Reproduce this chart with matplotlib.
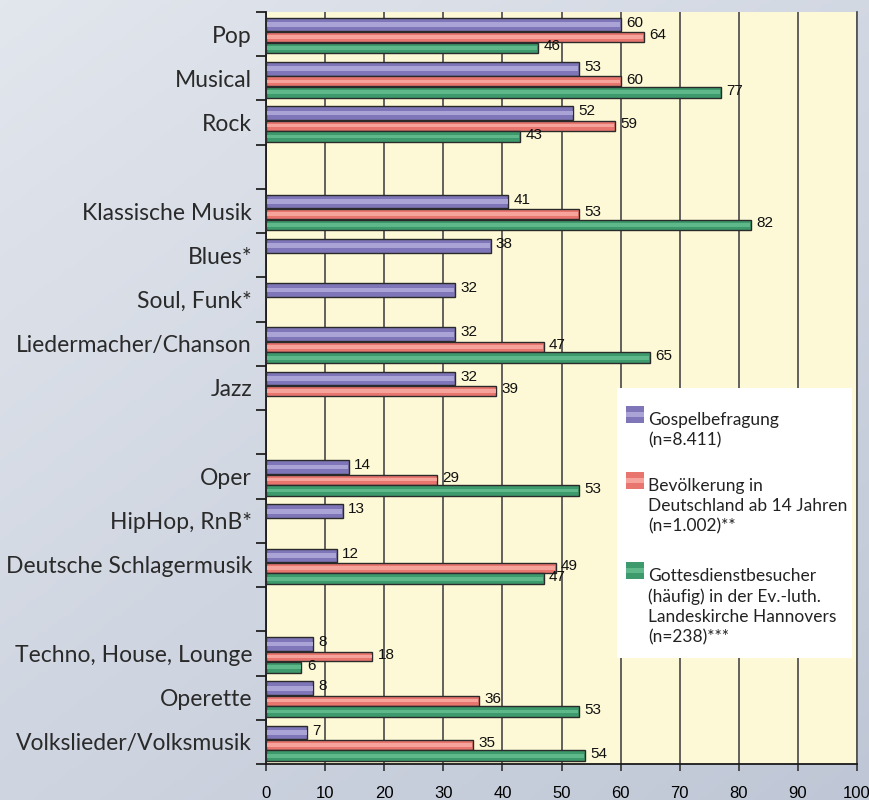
import numpy as np
import matplotlib
matplotlib.use("Agg")
import matplotlib.pyplot as plt
from matplotlib.patches import Rectangle
from matplotlib.colors import LinearSegmentedColormap

# ---- data ----
categories = ["Pop", "Musical", "Rock", "", "Klassische Musik", "Blues*", "Soul, Funk*",
              "Liedermacher/Chanson", "Jazz", "", "Oper", "HipHop, RnB*",
              "Deutsche Schlagermusik", "", "Techno, House, Lounge", "Operette",
              "Volkslieder/Volksmusik"]
nan = np.nan
gospel = [60, 53, 52, nan, 41, 38, 32, 32, 32, nan, 14, 13, 12, nan, 8, 8, 7]
bevoelkerung = [64, 60, 59, nan, 53, nan, nan, 47, 39, nan, 29, nan, 49, nan, 18, 36, 35]
gottesdienst = [46, 77, 43, nan, 82, nan, nan, 65, nan, nan, 53, nan, 47, nan, 6, 53, 54]
xticks = list(range(0, 101, 10))

legend_labels = ["Gospelbefragung\n(n=8.411)",
                 "Bevölkerung in\nDeutschland ab 14 Jahren\n(n=1.002)**",
                 "Gottesdienstbesucher\n(häufig) in der Ev.-luth.\nLandeskirche Hannovers\n(n=238)***"]

# base colour, light stripe colour
styles = [("#7f76b9", "#aaa3d6"),
          ("#e8766f", "#f5a39b"),
          ("#3d9a6c", "#5fb88a")]
series = [gospel, bevoelkerung, gottesdienst]

W, H = 870, 800
fig = plt.figure(figsize=(W / 100, H / 100), dpi=100)

# background gradient
bg = fig.add_axes([0, 0, 1, 1], zorder=-10)
cmap = LinearSegmentedColormap.from_list("bg", ["#e2e6ed", "#bfc7d6"])
gx, gy = np.meshgrid(np.linspace(0, 1, 200), np.linspace(0, 1, 200))
bg.imshow(0.45 * gx + 0.55 * gy, cmap=cmap, aspect="auto", extent=[0, 1, 0, 1], origin="upper")
bg.axis("off")


def px(x, y):
    return x / W, 1 - y / H


ax = fig.add_axes([266 / W, 1 - 764 / H, (857 - 266) / W, (764 - 12) / H])
ax.set_facecolor("#fdf9d6")

n = len(categories)
y = np.arange(n)
offsets = [-0.215, 0.07, 0.315]
heights = [0.31, 0.225, 0.245]

for vals, off, bh, (base, light) in zip(series, offsets, heights, styles):
    vals = np.array(vals, dtype=float)
    ok = ~np.isnan(vals)
    ax.barh(y[ok] + off, vals[ok], height=bh, color=base, edgecolor="#2a2a2a",
            linewidth=1.0, zorder=3)
    ax.barh(y[ok] + off, vals[ok] - 0.25, left=0.12, height=bh * 0.35, color=light,
            linewidth=0, zorder=4)
    for yy, v in zip(y[ok] + off, vals[ok]):
        ax.text(v + 0.9, yy - 0.04, f"{int(v)}", ha="left", va="center", fontsize=11,
                family="Liberation Sans", color="#111111", zorder=5)

ax.set_xlim(0, 100)
ax.set_ylim(n - 0.5, -0.5)
ax.set_xticks(xticks)
ax.set_xticklabels([str(t) for t in xticks], family="Liberation Sans", fontsize=12)
ax.tick_params(axis="x", length=5, width=1.2, color="#333333", pad=10.5)
ax.grid(axis="x", color="#555555", linewidth=1.3, zorder=0)
ax.set_axisbelow(True)

ax.set_yticks(y)
ax.set_yticklabels(categories, family="Lato", fontsize=16.5, color="#2a2a2a")
ax.tick_params(axis="y", which="major", length=0, pad=10)
ax.set_yticks(np.arange(n + 1) - 0.5, minor=True)
ax.tick_params(axis="y", which="minor", length=7, width=1.3, color="#222222")

for s in ["left", "bottom"]:
    ax.spines[s].set_color("#1a1a1a")
    ax.spines[s].set_linewidth(1.3)
ax.spines["right"].set_color("#555555")
ax.spines["right"].set_linewidth(1.3)
ax.spines["top"].set_visible(False)

# legend box drawn by hand
x0, y0 = px(617, 658)
x1, y1 = px(852, 388)
fig.add_artist(Rectangle((x0, y0), x1 - x0, y1 - y0, transform=fig.transFigure,
                         facecolor="white", edgecolor="none", zorder=5))
entry_tops = [406, 472, 562]
for top, label, (base, light) in zip(entry_tops, legend_labels, styles):
    hx, hy = px(626, top + 17)
    hw, hh = 18 / W, 17 / H
    fig.add_artist(Rectangle((hx, hy), hw, hh, transform=fig.transFigure,
                             facecolor=base, edgecolor="none", zorder=6))
    fig.add_artist(Rectangle((hx, hy + hh * 0.33), hw, hh * 0.34, transform=fig.transFigure,
                             facecolor=light, edgecolor="none", zorder=7))
    tx, ty = px(648, top + 6)
    fig.text(tx, ty, label, ha="left", va="top", fontsize=12.5, family="Lato",
             color="#222222", linespacing=1.33, zorder=8)

fig.savefig("out.png", dpi=100)
